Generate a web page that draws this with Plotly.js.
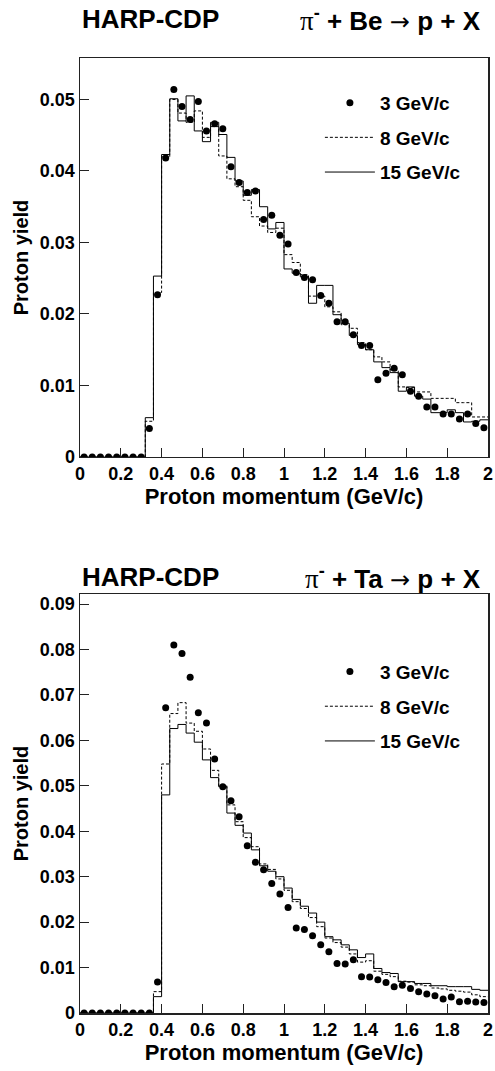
<!DOCTYPE html>
<html>
<head>
<meta charset="utf-8">
<script src="https://cdn.plot.ly/plotly-3.0.1.min.js"></script>
<style>html,body{margin:0;padding:0;background:#fff}</style>
</head>
<body>
<div id="chart" style="width:495px;height:1071px"></div>
<script>
// Bin width of the momentum histograms (GeV/c), 50 bins from 0 to 2
const binWidth = 0.04;
const legendLabels = ['3 GeV/c', '8 GeV/c', '15 GeV/c'];

// ---- pi- + Be -> p + X ----
const be3 = [0,0,0,0,0,0,0,0,0.0040,0.0227,0.0418,0.0514,0.0490,0.0472,0.0497,0.0456,0.0466,0.0459,0.0406,0.0384,
  0.0370,0.0372,0.0332,0.0338,0.0310,0.0298,0.0258,0.0251,0.0248,0.0226,0.0215,0.0189,0.0189,0.0171,0.0156,0.0156,
  0.0108,0.0117,0.0124,0.0115,0.0092,0.0085,0.0070,0.0070,0.0060,0.0060,0.0053,0.0060,0.0047,0.0041];
const be8 = [0,0,0,0,0,0,0,0,0.0050,0.0230,0.0420,0.0500,0.0481,0.0468,0.0484,0.0447,0.0462,0.0421,0.0389,0.0378,
  0.0359,0.0336,0.0323,0.0314,0.0320,0.0283,0.0272,0.0255,0.0225,0.0225,0.0210,0.0203,0.0185,0.0180,0.0160,0.0150,
  0.0140,0.0133,0.0122,0.0098,0.0097,0.0091,0.0091,0.0082,0.0082,0.0082,0.0076,0.0076,0.0056,0.0056];
const be15 = [0,0,0,0,0,0,0,0,0.0055,0.0253,0.0423,0.0501,0.0470,0.0505,0.0456,0.0441,0.0468,0.0451,0.0419,0.0386,
  0.0366,0.0374,0.0350,0.0319,0.0328,0.0263,0.0257,0.0252,0.0215,0.0240,0.0240,0.0199,0.0187,0.0170,0.0157,0.0150,
  0.0133,0.0125,0.0118,0.0092,0.0098,0.0085,0.0081,0.0062,0.0062,0.0066,0.0062,0.0049,0.0050,0.0052];

// ---- pi- + Ta -> p + X ----
const ta3 = [0,0,0,0,0,0,0,0,0,0.0068,0.0672,0.0810,0.0791,0.0739,0.0661,0.0638,0.0559,0.0498,0.0467,0.0432,
  0.0368,0.0332,0.0315,0.0285,0.0262,0.0232,0.0187,0.0184,0.0170,0.0150,0.0135,0.0109,0.0108,0.0117,0.0080,0.0079,
  0.0073,0.0067,0.0058,0.0061,0.0054,0.0047,0.0042,0.0038,0.0031,0.0035,0.0025,0.0026,0.0024,0.0023];
const ta8 = [0,0,0,0,0,0,0,0,0,0.0047,0.0548,0.0659,0.0683,0.0638,0.0620,0.0581,0.0534,0.0500,0.0458,0.0421,
  0.0386,0.0366,0.0328,0.0316,0.0295,0.0270,0.0245,0.0230,0.0210,0.0190,0.0165,0.0155,0.0145,0.0130,0.0112,0.0115,
  0.0092,0.0085,0.0080,0.0070,0.0068,0.0062,0.0060,0.0055,0.0053,0.0050,0.0048,0.0046,0.0040,0.0036];
const ta15 = [0,0,0,0,0,0,0,0,0,0.0036,0.0480,0.0626,0.0635,0.0616,0.0596,0.0557,0.0518,0.0498,0.0440,0.0413,
  0.0396,0.0359,0.0324,0.0312,0.0300,0.0275,0.0250,0.0235,0.0220,0.0200,0.0168,0.0161,0.0150,0.0139,0.0122,0.0130,
  0.0098,0.0089,0.0087,0.0069,0.0069,0.0065,0.0065,0.0060,0.0060,0.0058,0.0058,0.0058,0.0052,0.0050];

const FONT = 'Liberation Sans, Arial, Helvetica, sans-serif';

function centers(v){ return v.map((_, i) => (i + 0.5) * binWidth); }
function edgesX(v){ const e = v.map((_, i) => i * binWidth); e.push(v.length * binWidth); return e; }
function edgesY(v){ return v.concat([v[v.length - 1]]); }

function panel(v3, v8, v15, xa, ya, leg){
  return [
    {x: centers(v3), y: v3, xaxis: xa, yaxis: ya, type: 'scatter', mode: 'markers',
     name: legendLabels[0], legend: leg, legendgroup: leg + 'a',
     marker: {symbol: 'circle', size: 7, color: '#000'}},
    {x: edgesX(v8), y: edgesY(v8), xaxis: xa, yaxis: ya, type: 'scatter', mode: 'lines',
     name: legendLabels[1], legend: leg, legendgroup: leg + 'b',
     line: {shape: 'hv', color: '#000', width: 1, dash: '3px,2px'}},
    {x: edgesX(v15), y: edgesY(v15), xaxis: xa, yaxis: ya, type: 'scatter', mode: 'lines',
     name: legendLabels[2], legend: leg, legendgroup: leg + 'c',
     line: {shape: 'hv', color: '#000', width: 1}}
  ];
}

const data = panel(be3, be8, be15, 'x', 'y', 'legend').concat(panel(ta3, ta8, ta15, 'x2', 'y2', 'legend2'));

function xAxis(anchor){
  return {anchor: anchor, range: [0, 2], tick0: 0, dtick: 0.2, ticks: 'inside', ticklen: 9,
    tickwidth: 1, tickcolor: '#222', showline: true, mirror: true, linecolor: '#222', linewidth: 1.5,
    showgrid: false, zeroline: false, fixedrange: true,
    tickfont: {family: FONT, size: 18, color: '#000', weight: 700},
    title: {text: 'Proton momentum (GeV/c)', standoff: 3,
      font: {family: FONT, size: 22, color: '#000', weight: 700}}};
}
function yAxis(anchor, domain, top){
  return {anchor: anchor, domain: domain, range: [0, top], tick0: 0, dtick: 0.01, ticks: 'inside', ticklen: 9,
    tickwidth: 1, tickcolor: '#222', showline: true, mirror: true, linecolor: '#222', linewidth: 1.5,
    showgrid: false, zeroline: false, fixedrange: true,
    tickfont: {family: FONT, size: 18, color: '#000', weight: 700},
    title: {text: 'Proton yield', standoff: 6,
      font: {family: FONT, size: 20, color: '#000', weight: 700}}};
}
function legendBox(y){
  return {x: 0.588, y: y, xanchor: 'left', yanchor: 'top', bgcolor: 'rgba(0,0,0,0)',
    borderwidth: 0, tracegroupgap: 7, itemwidth: 50,
    font: {family: FONT, size: 19, color: '#000', weight: 700}};
}
function titleAnn(text, x, y, anchor){
  return {text: text, xref: 'paper', yref: 'paper', x: x, y: y, xanchor: anchor, yanchor: 'middle',
    showarrow: false, font: {family: FONT, size: 26, color: '#000', weight: 700}};
}
const reactBe = '<span style="font-family:Liberation Serif;font-weight:normal;font-size:27px">π</span><sup>-</sup> + Be <span style="font-family:DejaVu Sans;font-weight:normal;font-size:24px">→</span> p + X';
const reactTa = '<span style="font-family:Liberation Serif;font-weight:normal;font-size:27px">π</span><sup>-</sup> + Ta <span style="font-family:DejaVu Sans;font-weight:normal;font-size:24px">→</span> p + X';

const layout = {
  width: 495, height: 1071,
  margin: {l: 80, r: 7, t: 58, b: 58},
  paper_bgcolor: '#fff', plot_bgcolor: '#fff',
  showlegend: true,
  xaxis: xAxis('y'),
  yaxis: yAxis('x', [0.5822, 1], 0.0558),
  xaxis2: xAxis('y2'),
  yaxis2: yAxis('x2', [0, 0.4387], 0.0922),
  legend: legendBox(0.973),
  legend2: legendBox(0.3773),
  annotations: [
    titleAnn('HARP-CDP', 0, 1.0408, 'left'),
    titleAnn(reactBe, 0.988, 1.0408, 'right'),
    titleAnn('HARP-CDP', 0, 0.4565, 'left'),
    titleAnn(reactTa, 0.988, 0.4565, 'right')
  ]
};

Plotly.newPlot('chart', data, layout, {displayModeBar: false, staticPlot: true});
</script>
</body>
</html>
